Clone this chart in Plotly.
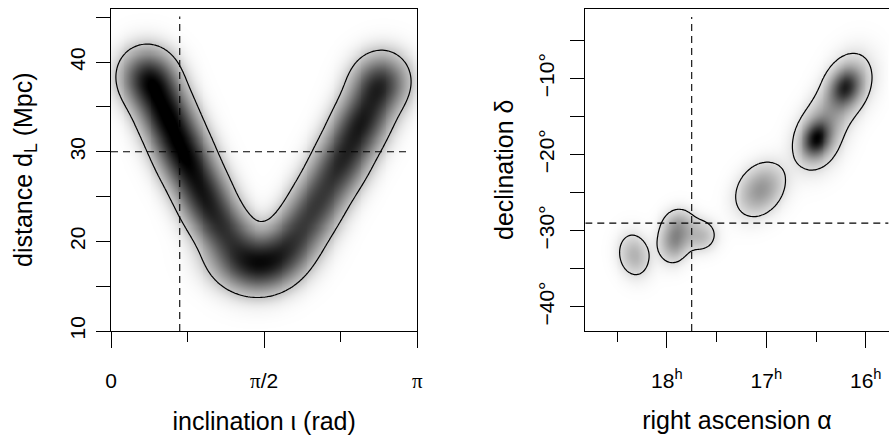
import numpy as np
import plotly.graph_objects as go

# ---------------- data ----------------
# Left panel: distance vs inclination posterior, modelled as Gaussian components
incl_c = [0.38, 0.55, 0.74, 0.95, 1.18, 1.40, 1.66, 1.88, 2.12, 2.36, 2.58, 2.76]      # rad
dist_c = [38.3, 34.5, 29.8, 25.2, 21.0, 17.5, 17.9, 20.6, 24.4, 28.9, 33.6, 37.8]      # Mpc
incl_w = [0.85, 1.00, 0.95, 0.80, 0.66, 0.58, 0.52, 0.55, 0.62, 0.75, 0.88, 0.75]
incl_ang = [-67, -67, -67, -66, -50, -10, 25, 55, 64, 64, 64, 64]                      # deg, ridge direction
incl_sa = [18, 24, 24, 24, 24, 24, 24, 24, 24, 24, 24, 18]                              # along ridge (px)
incl_sp = [17, 16, 16, 16, 16, 17, 17, 16, 16, 16, 16, 17]                              # across ridge (px)
true_incl = 0.705
true_dist = 30.0

# Right panel: sky position posterior components
ra_c = [18.33, 17.92, 17.66, 17.86, 17.06, 16.50, 16.21, 16.36, 16.49, 16.16]         # hours
dec_c = [-33.2, -31.0, -30.6, -28.9, -24.6, -17.9, -11.1, -14.5, -18.3, -10.5]        # deg
sky_w = [0.30, 0.52, 0.27, 0.14, 0.45, 0.95, 0.80, 0.30, 0.30, 0.28]
sky_ang = [100, 80, 60, 0, 55, 70, 70, 61, 70, 70]
sky_sa = [14, 14, 10, 10, 17.5, 11, 12, 22, 19, 20]
sky_sp = [10, 9.5, 10, 9, 13, 8, 9, 13, 14, 14]
true_ra = 17.75
true_dec = -29.03

# ticks
incl_ticks = [0, np.pi / 2, np.pi]
incl_ticktext = ["0", "<span style='font-family:Liberation Serif'>π</span>/2",
                 "<span style='font-family:Liberation Serif'>π</span>"]
incl_minor = [np.pi / 4, 3 * np.pi / 4]
dist_ticks = [10, 20, 30, 40]
dist_minor = [15, 25, 35, 45]
ra_ticks = [18, 17, 16]
ra_ticktext = ["18<sup>h</sup>", "17<sup>h</sup>", "16<sup>h</sup>"]
ra_minor = [18.5, 17.5, 16.5]
dec_ticks = [-40, -30, -20, -10]
dec_ticktext = ["\u221240\u00b0", "\u221230\u00b0", "\u221220\u00b0", "\u221210\u00b0"]
dec_minor = [-35, -25, -15, -5]

# ---------------- layout geometry ----------------
W, H = 889, 441
L_dom = [111 / W, 417.3 / W]
R_dom = [585.3 / W, 888.6 / W]
Y_dom = [1 - 331 / H, 1 - 9.3 / H]
L_xr = [0, np.pi]
L_yr = [10, 45.9]
R_xr = [18.82, 15.77]
R_yr = [-43.2, -0.93]


def density(xc, yc, w, ang, sa, sp, xr, yr, xdom, n=160):
    xs = np.linspace(min(xr), max(xr), n)
    ys = np.linspace(min(yr), max(yr), n)
    X, Y = np.meshgrid(xs, ys)
    kx = (xdom[1] - xdom[0]) * W / abs(xr[1] - xr[0])
    ky = (Y_dom[1] - Y_dom[0]) * H / abs(yr[1] - yr[0])
    sgn = -1 if xr[1] < xr[0] else 1
    Z = np.zeros_like(X)
    for cx, cy, ww, a, s1, s2 in zip(xc, yc, w, ang, sa, sp):
        u = sgn * (X - cx) * kx
        v = (Y - cy) * ky
        t = np.deg2rad(a)
        al = u * np.cos(t) + v * np.sin(t)
        pe = -u * np.sin(t) + v * np.cos(t)
        Z += ww * np.exp(-0.5 * (al ** 2 / s1 ** 2 + pe ** 2 / s2 ** 2))
    return xs, ys, Z


lx, ly, lz = density(incl_c, dist_c, incl_w, incl_ang, incl_sa, incl_sp, L_xr, L_yr, L_dom)
rx, ry, rz = density(ra_c, dec_c, sky_w, sky_ang, sky_sa, sky_sp, R_xr, R_yr, R_dom)


def gray_scale(gamma, n=11):
    stops = []
    for i in range(n):
        t = i / (n - 1)
        g = int(round(255 * (1 - t ** gamma)))
        stops.append([t, f"rgb({g},{g},{g})"])
    return stops


dash = "7px,5px"
fig = go.Figure()

fig.add_trace(go.Heatmap(x=lx, y=ly, z=lz, colorscale=gray_scale(0.75), zmin=0, zmax=lz.max() * 0.95,
                         showscale=False, zsmooth="best", hoverinfo="skip", xaxis="x", yaxis="y"))
lev_l = lz.max() * 0.13
fig.add_trace(go.Contour(x=lx, y=ly, z=lz, showscale=False, hoverinfo="skip",
                         contours=dict(start=lev_l, end=lev_l, size=1, coloring="none"),
                         line=dict(color="black", width=1.2), xaxis="x", yaxis="y"))
fig.add_trace(go.Scatter(x=[true_incl, true_incl], y=[10, 45.1], mode="lines",
                         line=dict(color="black", width=1.1, dash=dash),
                         showlegend=False, hoverinfo="skip", xaxis="x", yaxis="y"))
fig.add_trace(go.Scatter(x=[0, 3.04], y=[true_dist, true_dist], mode="lines",
                         line=dict(color="black", width=1.1, dash=dash),
                         showlegend=False, hoverinfo="skip", xaxis="x", yaxis="y"))

fig.add_trace(go.Heatmap(x=rx, y=ry, z=rz, colorscale=gray_scale(0.8), zmin=0, zmax=rz.max(),
                         showscale=False, zsmooth="best", hoverinfo="skip", xaxis="x2", yaxis="y2"))
lev_r = rz.max() * 0.08
fig.add_trace(go.Contour(x=rx, y=ry, z=rz, showscale=False, hoverinfo="skip",
                         contours=dict(start=lev_r, end=lev_r, size=1, coloring="none"),
                         line=dict(color="black", width=1.2), xaxis="x2", yaxis="y2"))
fig.add_trace(go.Scatter(x=[true_ra, true_ra], y=[-43.2, -1.94], mode="lines",
                         line=dict(color="black", width=1.1, dash=dash),
                         showlegend=False, hoverinfo="skip", xaxis="x2", yaxis="y2"))
fig.add_trace(go.Scatter(x=[18.82, 15.77], y=[true_dec, true_dec], mode="lines",
                         line=dict(color="black", width=1.1, dash=dash),
                         showlegend=False, hoverinfo="skip", xaxis="x2", yaxis="y2"))

sans = "Liberation Sans, Arial, sans-serif"
fs_title = 25
fs_tick = 21
common = dict(showline=True, mirror=True, linecolor="black", linewidth=1, ticks="outside",
              tickcolor="black", tickwidth=1, showgrid=False, zeroline=False, automargin=False,
              tickfont=dict(family=sans, size=fs_tick, color="black"))
minor_common = dict(tickmode="array", ticks="outside", tickcolor="black", tickwidth=1, showgrid=False)

fig.update_layout(
    width=W, height=H, autosize=False, showlegend=False,
    margin=dict(l=0, r=0, t=0, b=0),
    paper_bgcolor="white", plot_bgcolor="white",
    xaxis=dict(domain=L_dom, range=L_xr, anchor="y", tickmode="array", tickvals=incl_ticks,
               ticktext=incl_ticktext, ticklen=16, ticklabelstandoff=15,
               minor=dict(tickvals=incl_minor, ticklen=10, **minor_common),
               title=dict(text="inclination ι (rad)",
                          font=dict(family=sans, size=fs_title, color="black"), standoff=20),
               **common),
    yaxis=dict(domain=Y_dom, range=L_yr, anchor="x", tickmode="array", tickvals=dist_ticks,
               ticktext=[str(v) for v in dist_ticks], ticklen=14, tickangle=-90,
               ticklabelstandoff=3,
               minor=dict(tickvals=dist_minor, ticklen=14, **minor_common),
               **common),
    xaxis2=dict(domain=R_dom, range=R_xr, anchor="y2", tickmode="array", tickvals=ra_ticks,
                ticktext=ra_ticktext, ticklen=16, ticklabelstandoff=15,
                minor=dict(tickvals=ra_minor, ticklen=10, **minor_common),
                title=dict(text="right ascension α",
                           font=dict(family=sans, size=fs_title, color="black"), standoff=20),
                **common),
    yaxis2=dict(domain=Y_dom, range=R_yr, anchor="x2", tickmode="array", tickvals=dec_ticks,
                ticktext=dec_ticktext, ticklen=14, tickangle=-90, ticklabelstandoff=8,
                minor=dict(tickvals=dec_minor, ticklen=14, **minor_common),
                **common),
    annotations=[
        dict(text="distance d<sub>L</sub> (Mpc)", xref="paper", yref="paper",
             x=25 / W, y=1 - 170 / H, xanchor="center", yanchor="middle", textangle=-90,
             showarrow=False, font=dict(family=sans, size=fs_title, color="black")),
        dict(text="declination δ", xref="paper", yref="paper",
             x=504 / W, y=1 - 170 / H, xanchor="center", yanchor="middle", textangle=-90,
             showarrow=False, font=dict(family=sans, size=fs_title, color="black")),
    ],
)

fig.write_html("out.html", config={"displayModeBar": False},
               post_script="document.body.style.margin='0';")
